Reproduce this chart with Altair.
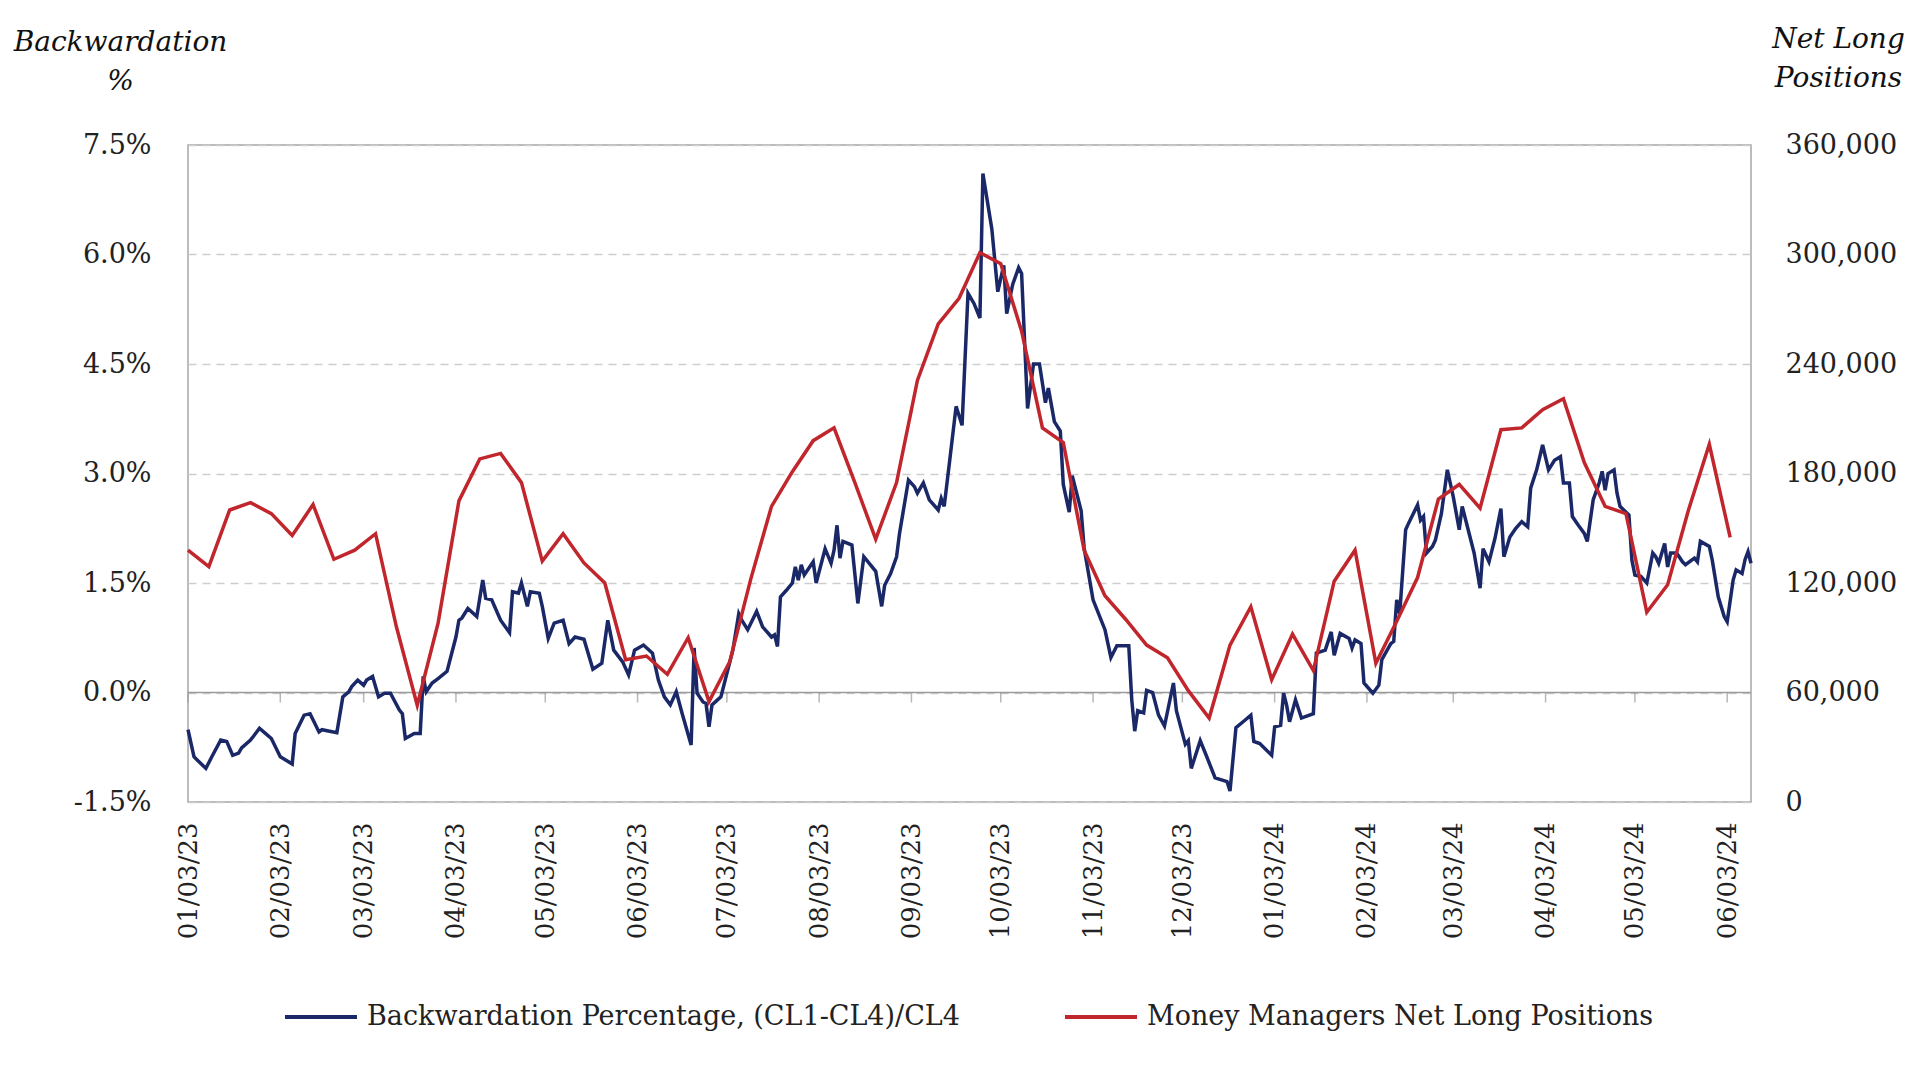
import altair as alt
import pandas as pd

BW_NAME = "Backwardation Percentage, (CL1-CL4)/CL4"
NL_NAME = "Money Managers Net Long Positions"
BLUE = "#1a2868"
RED = "#c0262c"
GRID = "#cdcdcd"
FRAME = "#a6a6a6"
FONT = "DejaVu Serif"

# Backwardation (CL1-CL4)/CL4 in percent; dates as day counts from 2023-01-03
backwardation_day = [
    0, 2, 3, 6, 8, 11, 13, 15, 17, 18,
    21, 22, 24, 26, 28, 31, 35, 36, 39, 41,
    44, 45, 50, 52, 54, 55, 57, 59, 60, 62,
    64, 66, 68, 71, 72, 73, 76, 78, 79, 80,
    82, 84, 87, 90, 91, 92, 94, 97, 99, 100,
    102, 105, 108, 109, 111, 112, 114, 115, 118, 119,
    121, 123, 126, 128, 130, 133, 136, 139, 141, 143,
    146, 148, 150, 153, 156, 158, 160, 162, 164, 166,
    169, 170, 171, 173, 174, 175, 176, 179, 183, 185,
    186, 188, 191, 193, 196, 197, 198, 199, 201, 203,
    204, 205, 206, 207, 210, 211, 214, 216, 217, 218,
    219, 220, 223, 225, 227, 231, 233, 234, 236, 238,
    239, 242, 244, 245, 247, 249, 252, 253, 254, 256,
    258, 260, 262, 264, 266, 267, 270, 272, 274, 275,
    277, 279, 280, 282, 284, 286, 288, 289, 291, 293,
    294, 296, 297, 300, 301, 304, 308, 310, 312, 316,
    317, 318, 319, 321, 322, 324, 326, 328, 331, 332,
    335, 336, 337, 340, 342, 345, 349, 350, 352, 355,
    357, 358, 360, 364, 365, 367, 368, 369, 370, 372,
    374, 378, 379, 382, 384, 385, 387, 390, 391, 392,
    394, 395, 398, 400, 401, 404, 405, 406, 407, 409,
    410, 413, 414, 415, 416, 418, 419, 421, 423, 425,
    427, 428, 430, 432, 434, 435, 437, 439, 441, 442,
    444, 446, 448, 450, 451, 453, 455, 457, 459, 461,
    462, 464, 465, 467, 469, 470, 472, 474, 475, 476,
    477, 479, 480, 481, 484, 485, 486, 488, 490, 492,
    493, 494, 496, 497, 498, 500, 502, 503, 506, 507,
    508, 511, 512, 514, 516, 517, 519, 520, 522, 523,
    524, 525,
]
backwardation_pct = [
    -0.51, -0.88, -0.92, -1.04, -0.88, -0.65, -0.67, -0.86, -0.83, -0.76,
    -0.65, -0.60, -0.49, -0.56, -0.63, -0.88, -0.98, -0.56, -0.31, -0.29,
    -0.54, -0.51, -0.55, -0.06, 0.01, 0.08, 0.17, 0.10, 0.17, 0.22,
    -0.06, -0.01, -0.01, -0.24, -0.29, -0.63, -0.56, -0.56, 0.22, 0.01,
    0.13, 0.19, 0.29, 0.76, 0.99, 1.02, 1.15, 1.04, 1.54, 1.29,
    1.27, 0.99, 0.82, 1.38, 1.36, 1.50, 1.18, 1.38, 1.36, 1.18,
    0.74, 0.95, 0.99, 0.67, 0.76, 0.73, 0.32, 0.40, 0.99, 0.58,
    0.42, 0.24, 0.58, 0.65, 0.54, 0.17, -0.06, -0.17, 0.01, -0.29,
    -0.72, 0.61, -0.01, -0.13, -0.15, -0.47, -0.17, -0.06, 0.58, 1.08,
    0.99, 0.86, 1.11, 0.90, 0.76, 0.79, 0.63, 1.31, 1.40, 1.50,
    1.72, 1.54, 1.75, 1.61, 1.79, 1.50, 1.97, 1.77, 1.95, 2.29,
    1.84, 2.07, 2.02, 1.22, 1.86, 1.66, 1.18, 1.47, 1.63, 1.86,
    2.18, 2.91, 2.82, 2.73, 2.87, 2.64, 2.50, 2.66, 2.55, 3.23,
    3.92, 3.66, 5.47, 5.33, 5.13, 7.11, 6.35, 5.49, 5.85, 5.19,
    5.59, 5.82, 5.74, 3.89, 4.50, 4.50, 3.97, 4.17, 3.71, 3.58,
    2.85, 2.47, 2.97, 2.49, 1.98, 1.27, 0.86, 0.48, 0.64, 0.64,
    -0.10, -0.53, -0.25, -0.28, 0.03, 0.00, -0.31, -0.46, 0.13, -0.25,
    -0.71, -0.66, -1.04, -0.66, -0.86, -1.17, -1.22, -1.35, -0.48, -0.38,
    -0.31, -0.67, -0.70, -0.86, -0.47, -0.45, -0.01, -0.17, -0.40, -0.10,
    -0.35, -0.29, 0.54, 0.58, 0.83, 0.51, 0.81, 0.74, 0.61, 0.72,
    0.67, 0.13, -0.01, 0.10, 0.45, 0.67, 0.70, 1.27, 1.08, 2.23,
    2.32, 2.57, 2.36, 2.41, 1.91, 2.00, 2.09, 2.45, 3.05, 2.68,
    2.23, 2.55, 2.23, 1.91, 1.43, 1.97, 1.79, 2.11, 2.52, 1.86,
    2.13, 2.25, 2.34, 2.27, 2.80, 3.05, 3.39, 3.05, 3.18, 3.23,
    2.87, 2.87, 2.41, 2.29, 2.18, 2.07, 2.64, 2.87, 3.03, 2.77,
    3.00, 3.05, 2.73, 2.55, 2.43, 1.81, 1.61, 1.59, 1.50, 1.91,
    1.86, 1.77, 2.04, 1.72, 1.91, 1.91, 1.79, 1.75, 1.84, 1.79,
    2.07, 2.00, 1.81, 1.31, 1.04, 0.97, 1.54, 1.68, 1.63, 1.82,
    1.93, 1.77,
]

# Weekly COT report (Tuesdays) starting 2023-01-03
net_long_first_report = "2023-01-03"
net_long_positions = [
    138000, 129000, 160000, 164000, 158000, 146000, 163000, 133000, 138000, 147000,
    96000, 53000, 98000, 165000, 188000, 191000, 175000, 132000, 147000, 131000,
    120000, 78000, 80000, 70000, 90000, 55000, 77000, 122000, 162000, 181000,
    198000, 205000, 175000, 144000, 175000, 231000, 262000, 276000, 301000, 295000,
    258000, 205000, 197000, 138000, 113000, 100000, 86000, 79000, 61000, 46000,
    86000, 107000, 67000, 92000, 72000, 121000, 138000, 76000, 99000, 123000,
    166000, 174000, 161000, 204000, 205000, 215000, 221000, 186000, 162000, 158000,
    104000, 119000, 160000, 196000, 145000,
]

month_tick_dates = [
    "2023-01-03", "2023-02-03", "2023-03-03", "2023-04-03", "2023-05-03",
    "2023-06-03", "2023-07-03", "2023-08-03", "2023-09-03", "2023-10-03",
    "2023-11-03", "2023-12-03", "2024-01-03", "2024-02-03", "2024-03-03",
    "2024-04-03", "2024-05-03", "2024-06-03",
]

left_ticks = [-1.5, 0.0, 1.5, 3.0, 4.5, 6.0, 7.5]
right_ticks = [0, 60000, 120000, 180000, 240000, 300000, 360000]

assert len(backwardation_day) == len(backwardation_pct)

start = pd.Timestamp("2023-01-03")
bw_df = pd.DataFrame({
    "date": start + pd.to_timedelta(backwardation_day, unit="D"),
    "value": backwardation_pct,
    "series": BW_NAME,
})
nl_df = pd.DataFrame({
    "date": pd.date_range(net_long_first_report, periods=len(net_long_positions), freq="7D"),
    "value": net_long_positions,
    "series": NL_NAME,
})
tick_df = pd.DataFrame({"date": pd.to_datetime(month_tick_dates), "value": 0.0})
zero_df = pd.DataFrame({"value": [0.0]})

x_scale = alt.Scale(
    domain=[alt.DateTime(year=2023, month=1, date=3), alt.DateTime(year=2024, month=6, date=11)],
    nice=False,
)
left_scale = alt.Scale(domain=[-1.5, 7.5], nice=False, zero=False)
right_scale = alt.Scale(domain=[0, 360000], nice=False)
color_scale = alt.Scale(domain=[BW_NAME, NL_NAME], range=[BLUE, RED])

x_axis = alt.Axis(
    values=[alt.DateTime(year=int(d[:4]), month=int(d[5:7]), date=int(d[8:])) for d in month_tick_dates],
    labelExpr="timeFormat(datum.value, '%m/%d/%y')",
    labelAngle=270,
    labelFont=FONT,
    labelFontSize=26,
    labelColor="#222222",
    labelPadding=20,
    labelOverlap=False,
    labelFlush=False,
    labelBound=False,
    domain=False,
    ticks=False,
    grid=False,
    title=None,
)

left_axis = alt.Axis(
    values=left_ticks,
    labelExpr="(datum.value < 0 ? '-' : '') + format(abs(datum.value), '.1f') + '%'",
    labelFont=FONT,
    labelFontSize=27,
    labelColor="#222222",
    labelPadding=37,
    domain=False,
    ticks=False,
    grid=True,
    gridColor=GRID,
    gridDash=[8, 6],
    gridWidth=1.5,
    title=["Backwardation", "%"],
    titleAngle=0,
    titleX=-68,
    titleY=-117,
    titleAlign="center",
    titleBaseline="top",
    titleFont=FONT,
    titleFontStyle="italic",
    titleFontWeight="normal",
    titleFontSize=28,
    titleLineHeight=39,
    titleColor="#111111",
)

right_axis = alt.Axis(
    orient="right",
    values=right_ticks,
    format=",.0f",
    labelFont=FONT,
    labelFontSize=27,
    labelColor="#222222",
    labelPadding=34,
    domain=False,
    ticks=False,
    grid=False,
    title=["Net Long", "Positions"],
    titleAngle=0,
    titleX=87,
    titleY=-120,
    titleAlign="center",
    titleBaseline="top",
    titleFont=FONT,
    titleFontStyle="italic",
    titleFontWeight="normal",
    titleFontSize=28,
    titleLineHeight=39,
    titleColor="#111111",
)

legend = alt.Legend(
    orient="none",
    direction="horizontal",
    legendX=95,
    legendY=834,
    title=None,
    padding=0,
    symbolType="stroke",
    symbolSize=5184,
    symbolStrokeWidth=4,
    labelFont=FONT,
    labelFontSize=27,
    labelColor="#222222",
    labelOffset=8,
    labelLimit=0,
    columnPadding=97,
)

zero_line = alt.Chart(zero_df).mark_rule(color="#9a9a9a", strokeWidth=1.5).encode(
    y=alt.Y("value:Q", scale=left_scale, axis=left_axis),
)

month_ticks = alt.Chart(tick_df).mark_tick(
    orient="vertical", size=10, thickness=1.5, color="#9a9a9a", yOffset=5
).encode(
    x=alt.X("date:T", scale=x_scale, axis=x_axis),
    y=alt.Y("value:Q", scale=left_scale),
)

bw_line = alt.Chart(bw_df).mark_line(strokeWidth=3.5).encode(
    x=alt.X("date:T", scale=x_scale),
    y=alt.Y("value:Q", scale=left_scale),
    color=alt.Color("series:N", scale=color_scale, legend=legend),
)

nl_line = alt.Chart(nl_df).mark_line(strokeWidth=3.5).encode(
    x=alt.X("date:T", scale=x_scale),
    y=alt.Y("value:Q", scale=right_scale, axis=right_axis),
    color=alt.Color("series:N", scale=color_scale, legend=legend),
)

left_layer = alt.layer(zero_line, month_ticks, bw_line)

chart = (
    alt.layer(left_layer, nl_line)
    .resolve_scale(y="independent")
    .properties(
        width=1563,
        height=657,
        autosize=alt.AutoSizeParams(type="none"),
        padding={"left": 188, "top": 145, "right": 177, "bottom": 264},
        background="white",
    )
    .configure_view(stroke=FRAME, strokeWidth=1.5)
)

chart.save("out.html", embed_options={"renderer": "svg", "actions": False})
